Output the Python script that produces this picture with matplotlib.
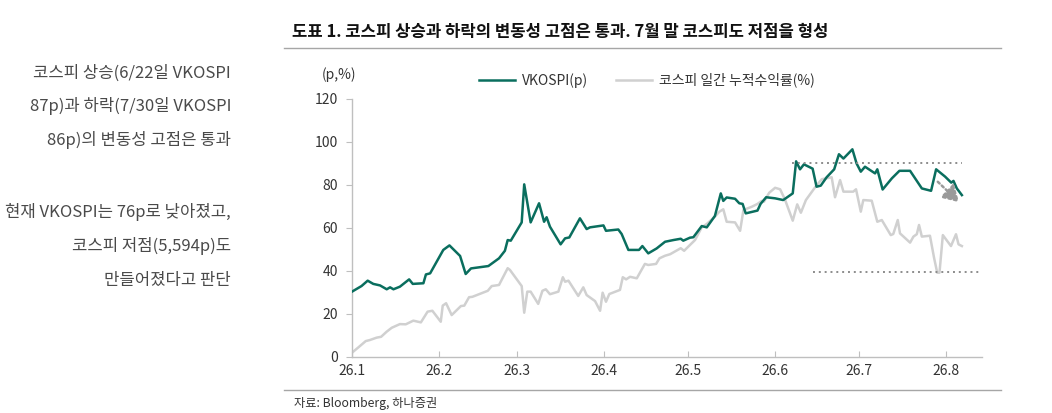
import numpy as np
import pandas as pd
import matplotlib
matplotlib.use("Agg")
import matplotlib.pyplot as plt

plt.rcParams['font.family'] = ['Noto Sans CJK KR', 'DejaVu Sans']

# 데이터 (2026-01-01 기준 경과일, 그림에서 읽은 값)
vk_days = [0, 3.4, 5.6, 7.6, 10, 12.4, 13.6, 14.8, 17.1, 20.4, 21.7, 25.5, 26.4, 27.9,
           32.6, 34.8, 38.6, 40.6, 42.5, 48.7, 52.5, 54.6, 55.6, 56.7, 60.6, 61.5,
           63.8, 66.8, 68.6, 69.5, 70.7, 74.5, 76.1, 77.6, 81.4, 83.8, 85, 89.8, 90.7,
           95.1, 96.3, 98.7, 102.5, 103.7, 105.8, 108.8, 111.8, 114.8, 117.4, 118.3,
           120.7, 121.9, 124.9, 126.7, 129.6, 131.7, 132.6, 133.8, 136.8, 138.3, 139.5,
           140.6, 144.8, 145.9, 147.9, 151.1, 154.0, 157.4, 158.6, 160.0, 161.4, 164.5,
           165.9, 167.4, 169.5, 172.2, 173.9, 175.5, 178.7, 180.2, 181.7, 183.2, 186.8,
           187.6, 189.5, 192.8, 195.5, 199.3, 203.5, 206.8, 208.6, 211.8, 214.0, 214.8,
           216.0, 217.8]
vkospi = [30.4, 33, 35.5, 34, 33.3, 31.5, 32.4, 31.5, 32.7, 36.1, 34, 34.3, 38.4, 38.9,
          49.8, 51.9, 47, 38.6, 41.2, 42.3, 45.9, 49.4, 54.4, 54.1, 62.6, 80.3,
          62.6, 71.5, 62.9, 65, 60.6, 52.4, 55.2, 55.6, 64.5, 59.5, 60.3, 61.2, 58.7,
          59.3, 57.2, 49.8, 49.8, 51.6, 48.2, 50.5, 53.6, 54.4, 55, 54.1,
          55.5, 55.7, 60.9, 60.3, 65.6, 76.1, 72.6, 74.2, 73.6, 71.5, 71.2,
          66.8, 68.1, 71.2, 74.3, 73.8, 73, 76.1, 91, 87.3, 89.6, 87.6,
          79.2, 79.7, 83.6, 87.3, 94.3, 92.3, 96.6, 90, 86.2, 88.5, 85.4,
          87.3, 77.9, 83.1, 86.6, 86.6, 78.4, 77.3, 87.3, 83.9, 81.1, 81.9,
          78.4, 75.3]

ks_days = [0, 2.3, 4.9, 6.4, 8.8, 10.4, 12.4, 14.2, 17.1, 19.2, 21.9, 24.6, 27, 28.7,
           31.7, 32.4, 33.6, 35.6, 38.9, 40.1, 41.8, 43, 48.5, 49.9, 52.5, 55.6, 56.4,
           60.6, 61.5, 62.6, 63.8, 66.5, 68, 69.2, 70.7, 73.7, 75.3, 76.1, 77.3, 80.8,
           82.6, 83.8, 86.8, 88.6, 89.5, 90.7, 91.9, 95.7, 96.7, 97.9, 99.3, 101.7,
           104.6, 105.8, 108.6, 109.8, 111.8, 113.6, 117.4, 118.6, 120.7, 122.5, 124.9,
           126.7, 129.6, 131.2, 132.6, 133.8, 136.8, 138.6, 139.8, 142.8, 144.8, 146.3,
           147.1, 149, 151.1, 152.9, 154.6, 157.4, 159, 160.3, 162.1, 165.7, 167.8,
           171.3, 172.5, 174.3, 175.5, 179.0, 180, 181.7, 182.6, 185.6, 187.6, 189.2,
           192.4, 193.3, 194.9, 195.7, 199.3, 200.5, 201.7, 202.5, 203.5, 206.4, 207.9,
           209.0, 209.8, 211.0, 213.9, 215.7, 216.6, 217.8]
kospi_ret = [2.0, 4.5, 7.4, 7.9, 9.0, 9.4, 11.8, 13.6, 15.3, 15.2, 16.9, 16.1, 21.1, 21.5,
             16.4, 23.9, 25, 19.5, 23.7, 23.9, 27.8, 28, 30.8, 33, 33.5, 41.3, 40.5,
             33, 20.6, 30.4, 30.4, 24.7, 30.8, 31.5, 29.2, 30.4, 37.1, 35, 35.5, 28.4,
             32.4, 28.8, 26, 21.5, 29.9, 25.7, 29.3, 31.2, 37.1, 36.1, 37.3, 36.6,
             43.3, 42.8, 43.3, 45.9, 47.1, 47.8, 50.6, 49.4, 52.1, 54.4, 60.3,
             61.9, 65.3, 67.6, 68.7, 62.9, 62.6, 58.7, 68.4, 69.9, 71.2, 72.6,
             72.2, 76.4, 78.7, 78, 73.3, 63.4, 71, 67.1, 73, 79.5, 82.7,
             83.6, 74.3, 82.3, 76.9, 76.9, 78, 67.6, 73, 72.7, 62.9, 63.7,
             56.7, 57.2, 63.7, 57.5, 53.2, 56, 57.1, 61.4, 56, 56.4, 45.9,
             39.2, 39.2, 56.7, 51.6, 57.1, 52.4, 51.6]

vk_high = 90       # 변동성 고점 라인
ks_low = 39.5      # 코스피 저점 라인
month_labels = ['26.1', '26.2', '26.3', '26.4', '26.5', '26.6', '26.7', '26.8']

base = pd.Timestamp('2026-01-01')


def to_dates(days):
    return base + pd.to_timedelta(np.array(days), unit='D')


GREEN = '#0a6e5e'
LGRAY = '#d0d0d0'
AXC = '#bfbfbf'

fig = plt.figure(figsize=(10.52, 4.13), dpi=100)
ax = fig.add_axes([0.3346, 0.1356, 0.5989, 0.6247])

ax.plot(to_dates(ks_days), kospi_ret, color=LGRAY, lw=1.8, label='코스피 일간 누적수익률(%)', zorder=2)
ax.plot(to_dates(vk_days), vkospi, color=GREEN, lw=1.8, label='VKOSPI(p)', zorder=3)

# 점선 가이드
ax.plot(to_dates([157, 218]), [vk_high, vk_high], color='#8c8c8c', lw=1.4, ls=(0, (1, 2)), zorder=4)
ax.plot(to_dates([164.6, 225]), [ks_low, ks_low], color='#8c8c8c', lw=1.4, ls=(0, (1, 2)), zorder=4,
        clip_on=False)
ax.annotate('', xy=(to_dates([216.8])[0], 72.0), xytext=(to_dates([209.2])[0], 81.5),
            arrowprops=dict(arrowstyle='-|>,head_length=0.6,head_width=0.35', color='#9a9a9a',
                            lw=1.8, ls=(0, (1, 1.2)), mutation_scale=16, shrinkA=0, shrinkB=0),
            zorder=5)

ax.set_xlim(base, base + pd.Timedelta(days=225))
ax.set_ylim(0, 120)
ax.set_yticks(range(0, 121, 20))
ticks = pd.date_range('2026-01-01', '2026-08-01', freq='MS')
ax.set_xticks(ticks)
ax.set_xticklabels(month_labels)

for s in ['top', 'right']:
    ax.spines[s].set_visible(False)
for s in ['left', 'bottom']:
    ax.spines[s].set_color(AXC)
    ax.spines[s].set_linewidth(1)
ax.tick_params(axis='y', direction='out', length=4, color=AXC, labelsize=10, labelcolor='#333333', pad=6)
ax.tick_params(axis='x', direction='in', length=4, color=AXC, labelsize=10, labelcolor='#333333', pad=5)

handles, labels = ax.get_legend_handles_labels()
fig.legend(handles[::-1], labels[::-1], loc='center', bbox_to_anchor=(0.615, 0.806), ncol=2,
           frameon=False, fontsize=10, handlelength=2.6, handletextpad=0.5, columnspacing=2.0,
           labelcolor='#333333')

fig.text(322 / 1052, 1 - 75 / 413, '(p,%)', fontsize=10, color='#333333', va='center')

# 제목
fig.text(292 / 1052, 1 - 32 / 413, '도표 1. 코스피 상승과 하락의 변동성 고점은 통과. 7월 말 코스피도 저점을 형성',
         fontsize=12, fontweight='bold', color='#111111', va='center')
fig.add_artist(plt.Line2D([284 / 1052, 1001 / 1052], [1 - 48 / 413, 1 - 48 / 413], color='#a6a6a6', lw=1))
fig.add_artist(plt.Line2D([284 / 1052, 1001 / 1052], [1 - 390 / 413, 1 - 390 / 413], color='#a6a6a6', lw=1))
fig.text(294 / 1052, 1 - 404 / 413, '자료: Bloomberg, 하나증권', fontsize=8.8, color='#333333', va='center')

# 왼쪽 코멘트
notes = [(73, '코스피 상승(6/22일 VKOSPI'), (106, '87p)과 하락(7/30일 VKOSPI'),
         (140, '86p)의 변동성 고점은 통과'), (212, '현재 VKOSPI는 76p로 낮아졌고,'),
         (246, '코스피 저점(5,594p)도'), (280, '만들어졌다고 판단')]
for yy, t in notes:
    fig.text(231 / 1052, 1 - yy / 413, t, fontsize=12, color='#4a4a4a', ha='right', va='center',
             fontweight='medium')

fig.savefig('out.png', dpi=100)
